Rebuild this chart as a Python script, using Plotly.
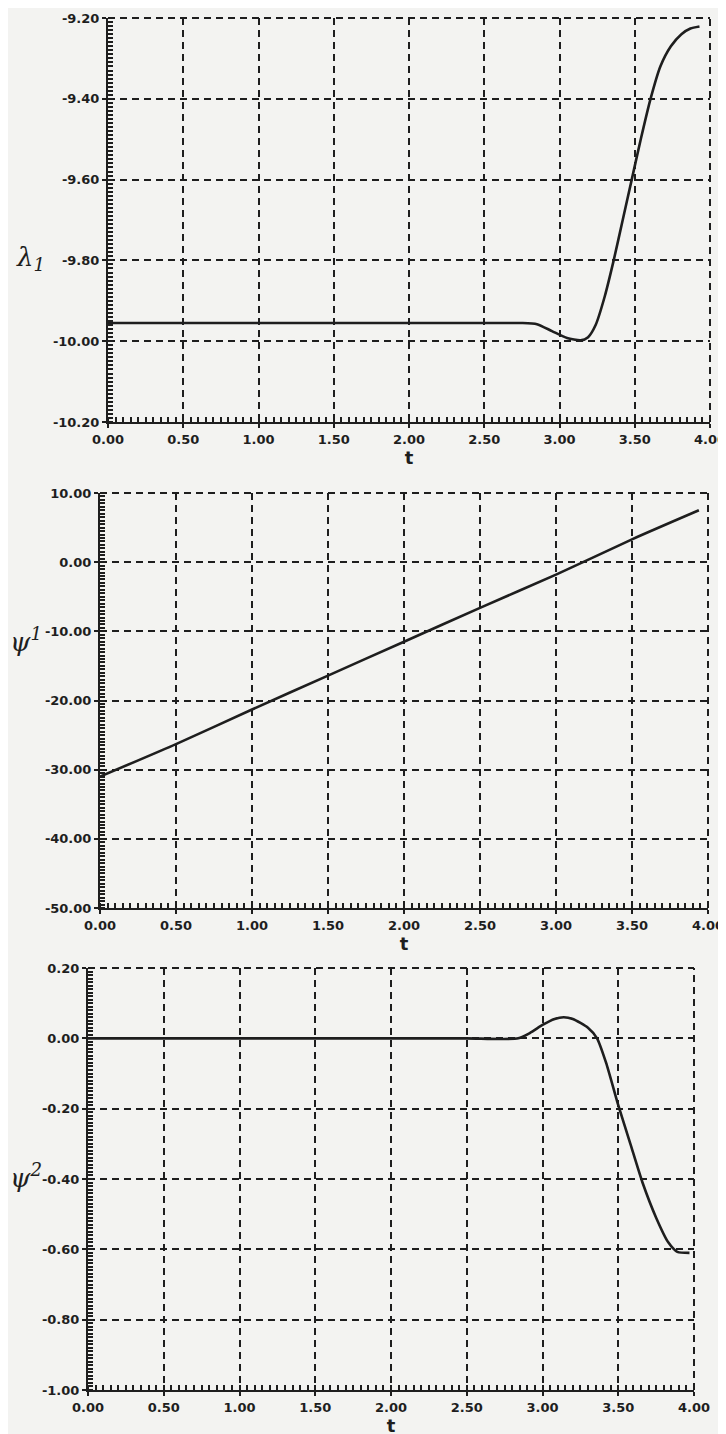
import plotly.graph_objects as go

W, H = 726, 1434
OFF = 8  # page body margin of the browser

# ---- data ----
t_lam = [0.0, 0.5, 1.0, 1.5, 2.0, 2.5, 2.75, 2.85, 2.95, 3.05, 3.14, 3.19, 3.24, 3.30, 3.36, 3.42, 3.48, 3.54,
         3.605, 3.67, 3.74, 3.81, 3.87, 3.93]
lam1 = [-9.955, -9.955, -9.955, -9.955, -9.955, -9.955, -9.955, -9.958, -9.975, -9.992, -9.998, -9.99, -9.96,
        -9.89, -9.80, -9.70, -9.60, -9.50, -9.40, -9.32, -9.27, -9.24, -9.226, -9.221]

t_psi1 = [0.0, 0.5, 1.0, 1.5, 2.0, 2.5, 3.0, 3.5, 3.94]
psi1 = [-31.0, -26.3, -21.3, -16.4, -11.5, -6.6, -1.8, 3.3, 7.5]

t_psi2 = [0.0, 0.5, 1.0, 1.5, 2.0, 2.5, 2.84, 2.92, 3.00, 3.08, 3.14, 3.20, 3.30, 3.36, 3.42, 3.50, 3.58, 3.66,
          3.75, 3.83, 3.89, 3.97]
psi2 = [0.0, 0.0, 0.0, 0.0, 0.0, 0.0, 0.0, 0.016, 0.038, 0.055, 0.06, 0.055, 0.03, 0.0, -0.07, -0.19, -0.30,
        -0.41, -0.51, -0.58, -0.607, -0.61]

x_ticks = [0.0, 0.5, 1.0, 1.5, 2.0, 2.5, 3.0, 3.5, 4.0]
x_text = ["0.00", "0.50", "1.00", "1.50", "2.00", "2.50", "3.00", "3.50", "4.00"]

y1_ticks = [-10.2, -10.0, -9.8, -9.6, -9.4, -9.2]
y1_text = ["-10.20", "-10.00", "-9.80", "-9.60", "-9.40", "-9.20"]
y2_ticks = [-50, -40, -30, -20, -10, 0, 10]
y2_text = ["-50.00", "-40.00", "-30.00", "-20.00", "-10.00", "0.00", "10.00"]
y3_ticks = [-1.0, -0.8, -0.6, -0.4, -0.2, 0.0, 0.2]
y3_text = ["-1.00", "-0.80", "-0.60", "-0.40", "-0.20", "0.00", "0.20"]

ink = "#1e1e1e"
bg = "#f3f3f1"
tickfont = dict(family="DejaVu Sans", size=13, color=ink)
DASH = "7px,5px"


def bold(lst):
    return ["<b>%s</b>" % s for s in lst]


fig = go.Figure()
for tx, ty, xa, ya in [(t_lam, lam1, "x", "y"), (t_psi1, psi1, "x2", "y2"), (t_psi2, psi2, "x3", "y3")]:
    fig.add_trace(go.Scatter(x=tx, y=ty, mode="lines",
                             line=dict(color=ink, width=2.6, shape="spline", smoothing=0.6),
                             xaxis=xa, yaxis=ya, showlegend=False))


def xax(dom, anchor):
    return dict(domain=dom, anchor=anchor, range=[0, 4], tickvals=x_ticks, ticktext=bold(x_text),
                tickfont=tickfont, showline=True, linecolor=ink, linewidth=2, mirror=False, automargin=False,
                showgrid=True, gridcolor=ink, gridwidth=2, griddash=DASH, zeroline=False,
                ticks="outside", ticklen=4, tickwidth=2, tickcolor=ink,
                minor=dict(dtick=0.05, ticks="inside", ticklen=5, tickwidth=1.5, tickcolor=ink, showgrid=False),
                title=dict(text="<b>t</b>", font=dict(family="DejaVu Sans", size=18, color=ink), standoff=4))


def yax(dom, anchor, rng, tv, tt, mdt):
    return dict(domain=dom, anchor=anchor, range=rng, tickvals=tv, ticktext=bold(tt), tickfont=tickfont,
                showline=True, linecolor=ink, linewidth=2, mirror=False, automargin=False,
                showgrid=True, gridcolor=ink, gridwidth=2, griddash=DASH, zeroline=False,
                ticks="outside", ticklen=4, tickwidth=2, tickcolor=ink,
                minor=dict(dtick=mdt, ticks="inside", ticklen=5, tickwidth=1.5, tickcolor=ink, showgrid=False))


def px(lo, hi):
    return [(lo - OFF) / W, (hi - OFF) / W]


def py(top, bottom):
    return [1 - (bottom - OFF) / H, 1 - (top - OFF) / H]


shapes = []
for xa, ya in [("x", "y"), ("x2", "y2"), ("x3", "y3")]:
    shapes.append(dict(type="line", xref=xa + " domain", yref=ya + " domain", x0=1, x1=1, y0=0, y1=1,
                       line=dict(color=ink, width=2, dash=DASH)))
    shapes.append(dict(type="line", xref=xa + " domain", yref=ya + " domain", x0=0, x1=1, y0=1, y1=1,
                       line=dict(color=ink, width=2, dash=DASH)))

lab_font = dict(family="DejaVu Serif", size=26, color=ink)
fig.update_layout(
    width=W, height=H, margin=dict(l=0, r=0, t=0, b=0),
    paper_bgcolor=bg, plot_bgcolor=bg,
    xaxis=xax(px(108, 710), "y"),
    yaxis=yax(py(18, 422), "x", [-10.2, -9.2], y1_ticks, y1_text, 0.01),
    xaxis2=xax(px(100, 708), "y2"),
    yaxis2=yax(py(493, 908), "x2", [-50, 10], y2_ticks, y2_text, 0.5),
    xaxis3=xax(px(88, 694), "y3"),
    yaxis3=yax(py(968, 1390), "x3", [-1.0, 0.2], y3_ticks, y3_text, 0.01),
    shapes=shapes,
    annotations=[
        dict(text="<i>λ<sub>1</sub></i>", x=(14 - OFF) / W, y=1 - (240 - OFF) / H, xref="paper", yref="paper",
             xanchor="left", showarrow=False, font=lab_font),
        dict(text="<i>ψ<sup>1</sup></i>", x=(8 - OFF) / W, y=1 - (640 - OFF) / H, xref="paper", yref="paper",
             xanchor="left", showarrow=False, font=lab_font),
        dict(text="<i>ψ<sup>2</sup></i>", x=(8 - OFF) / W, y=1 - (1195 - OFF) / H, xref="paper", yref="paper",
             xanchor="left", showarrow=False, font=lab_font),
    ],
)

fig.write_html("out.html")
